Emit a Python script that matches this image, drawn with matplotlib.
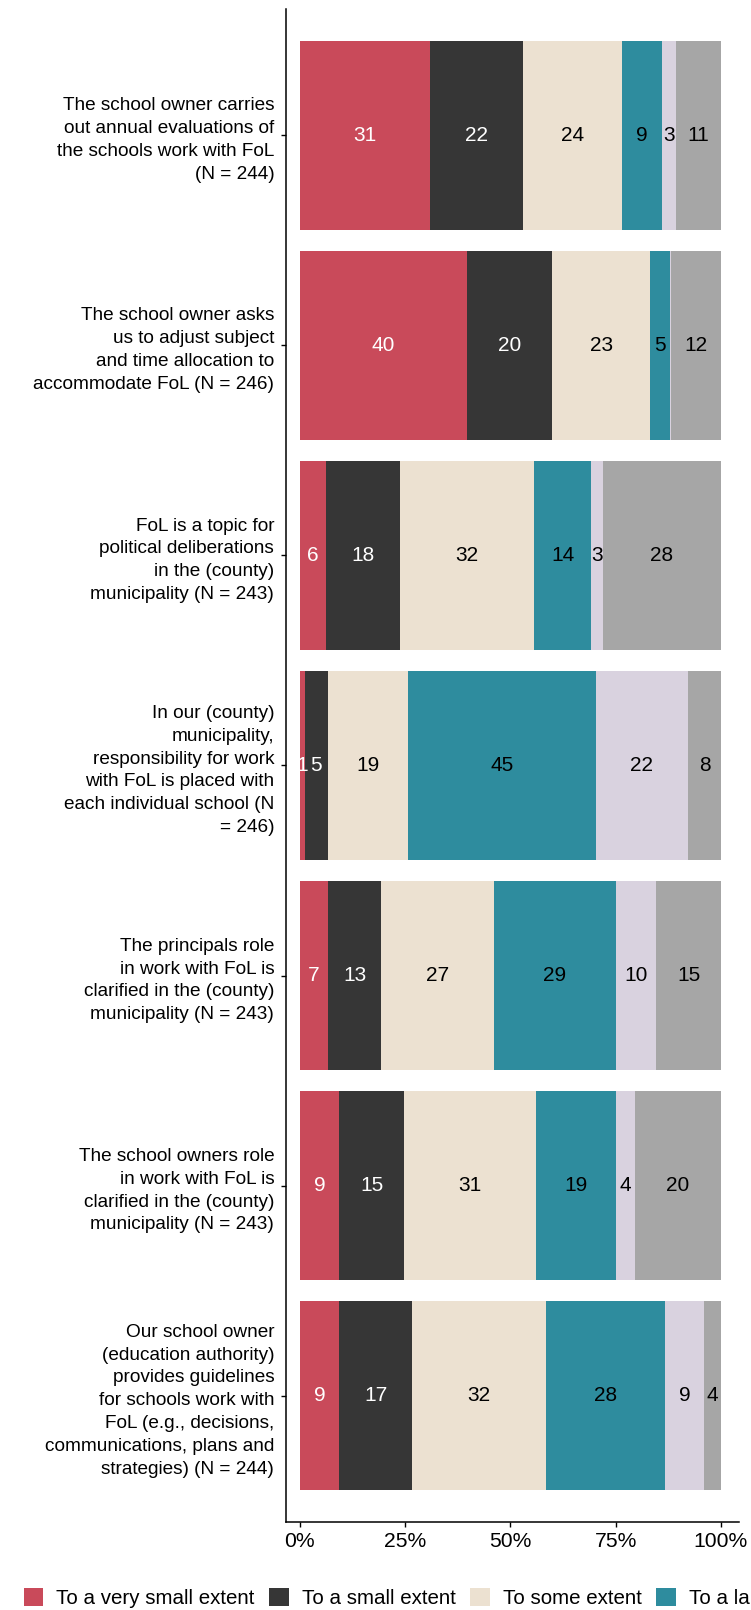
import matplotlib
matplotlib.use("Agg")
import matplotlib.pyplot as plt
from matplotlib.patches import Patch
import numpy as np

plt.rcParams['font.family'] = ['Liberation Sans', 'DejaVu Sans']

categories = [
    "The school owner carries\nout annual evaluations of\nthe schools work with FoL\n(N = 244)",
    "The school owner asks\nus to adjust subject\nand time allocation to\naccommodate FoL (N = 246)",
    "FoL is a topic for\npolitical deliberations\nin the (county)\nmunicipality (N = 243)",
    "In our (county)\nmunicipality,\nresponsibility for work\nwith FoL is placed with\neach individual school (N\n= 246)",
    "The principals role\nin work with FoL is\nclarified in the (county)\nmunicipality (N = 243)",
    "The school owners role\nin work with FoL is\nclarified in the (county)\nmunicipality (N = 243)",
    "Our school owner\n(education authority)\nprovides guidelines\nfor schools work with\nFoL (e.g., decisions,\ncommunications, plans and\nstrategies) (N = 244)",
]

responses = ["To a very small extent", "To a small extent", "To some extent",
             "To a large extent", "To a very large extent", "Don't know"]

very_small = [30.9, 39.7, 6.2, 1.2, 6.7, 9.4, 9.4]
small      = [22.1, 20.2, 17.6, 5.4, 12.6, 15.4, 17.3]
some       = [23.6, 23.3, 31.8, 19.0, 26.7, 31.2, 31.7]
large      = [9.4, 4.6, 13.6, 44.7, 29.0, 19.1, 28.4]
very_large = [3.3, 0.3, 2.8, 21.9, 9.7, 4.4, 9.3]
dont_know  = [10.7, 11.9, 28.0, 7.8, 15.3, 20.5, 3.9]

series = [very_small, small, some, large, very_large, dont_know]
colors = ["#C94A5A", "#363636", "#ECE1D1", "#2E8C9E", "#D9D2DF", "#A6A6A6"]
text_colors = ["white", "white", "black", "black", "black", "black"]

x_ticks = [0, 25, 50, 75, 100]
x_ticklabels = ["0%", "25%", "50%", "75%", "100%"]

fig = plt.figure(figsize=(7.51, 16.10), dpi=100)
ax = fig.add_axes([286/751, 1 - 1522/1610, (739-286)/751, (1522-9)/1610])

n = len(categories)
ypos = np.arange(n)[::-1]  # first category at top
left = np.zeros(n)
for vals, col, tcol in zip(series, colors, text_colors):
    vals = np.array(vals)
    ax.barh(ypos, vals, left=left, height=0.9, color=col, edgecolor='none')
    for y, l, v in zip(ypos, left, vals):
        lab = int(round(v))
        if lab > 0:
            ax.text(l + v/2, y, str(lab), ha='center', va='center',
                    color=tcol, fontsize=15)
    left = left + vals

ax.set_ylim(-0.6, n - 0.4)
ax.set_xlim(-3.3, 104.3)
ax.set_yticks(ypos)
ax.set_yticklabels(categories, fontsize=13.7, linespacing=1.45, ha='right')
ax.set_xticks(x_ticks)
ax.set_xticklabels(x_ticklabels, fontsize=15.2)
ax.tick_params(axis='y', length=3.5, width=1, pad=5, colors='black')
ax.tick_params(axis='x', length=3.5, width=1, pad=4, colors='black')
for s in ['top', 'right']:
    ax.spines[s].set_visible(False)
for s in ['left', 'bottom']:
    ax.spines[s].set_linewidth(1.1)

handles = [Patch(facecolor=c, edgecolor='none') for c in colors]
fig.legend(handles, responses, loc='center left',
           bbox_to_anchor=(23.5/751, 1 - 1598/1610), ncol=6, frameon=False,
           fontsize=14.8, handlelength=0.95, handleheight=0.95,
           handletextpad=0.65, columnspacing=0.7, borderaxespad=0, borderpad=0)

fig.savefig("out.png", dpi=100)
